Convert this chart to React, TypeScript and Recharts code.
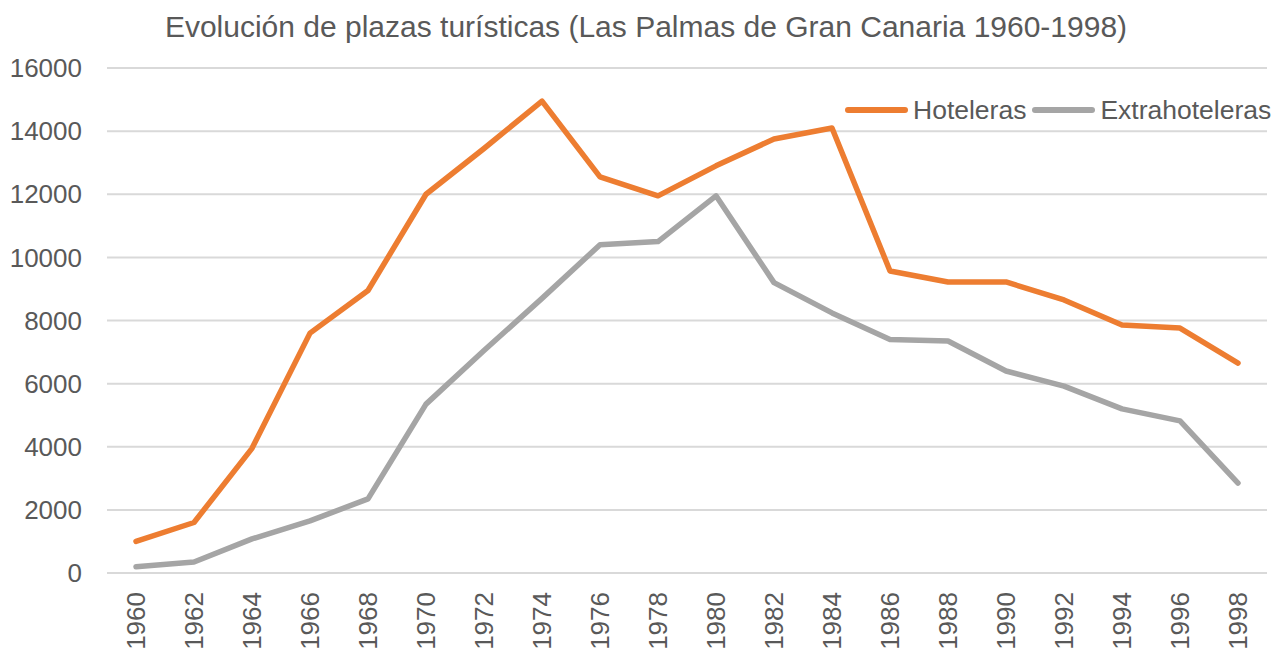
import { LineChart, Line, XAxis, YAxis, CartesianGrid } from "recharts";

const years = [
  "1960", "1962", "1964", "1966", "1968", "1970", "1972", "1974", "1976", "1978",
  "1980", "1982", "1984", "1986", "1988", "1990", "1992", "1994", "1996", "1998",
];
const hoteleras = [
  1000, 1600, 3950, 7600, 8950, 12000, 13450, 14950, 12550, 11950,
  12900, 13750, 14100, 9570, 9220, 9220, 8650, 7860, 7760, 6650,
];
const extrahoteleras = [
  200, 350, 1080, 1650, 2350, 5350, 7050, 8700, 10400, 10500,
  11950, 9200, 8240, 7400, 7350, 6400, 5920, 5200, 4820, 2850,
];
const yTicks = [0, 2000, 4000, 6000, 8000, 10000, 12000, 14000, 16000];

const title = "Evolución de plazas turísticas (Las Palmas de Gran Canaria 1960-1998)";
const FONT = "'Liberation Sans', Arial, sans-serif";
const TEXT = "#595959";
const ORANGE = "#ED7D31";
const GREY = "#A5A5A5";

const data = years.map((year, i) => ({
  year,
  Hoteleras: hoteleras[i],
  Extrahoteleras: extrahoteleras[i],
}));

const series = [
  { name: "Hoteleras", color: ORANGE },
  { name: "Extrahoteleras", color: GREY },
];

// rotated year labels, reading bottom-to-top
const YearTick = ({ x, y, payload }: any) => (
  <g transform={`translate(${x},${y})`}>
    <text
      transform="rotate(-90)"
      x={-19}
      dy="0.36em"
      textAnchor="end"
      fill={TEXT}
      fontSize={26}
      fontFamily={FONT}
    >
      {payload.value}
    </text>
  </g>
);

export default function App() {
  return (
    <div style={{ position: "absolute", left: 0, top: 0, width: 1280, height: 648, background: "#fff", overflow: "hidden" }}>
      <div
        style={{
          position: "absolute",
          top: 12,
          left: 0,
          width: 1292,
          textAlign: "center",
          fontFamily: FONT,
          fontSize: 30,
          lineHeight: "30px",
          color: TEXT,
        }}
      >
        {title}
      </div>
      <LineChart width={1280} height={648} data={data} margin={{ top: 68, right: 13, left: 0, bottom: 0 }}>
        <CartesianGrid vertical={false} stroke="#D9D9D9" strokeWidth={2} />
        <XAxis
          dataKey="year"
          interval={0}
          height={75}
          padding={{ left: 29, right: 29 }}
          axisLine={false}
          tickLine={false}
          tickSize={0}
          tickMargin={0}
          tick={<YearTick />}
        />
        <YAxis
          width={107}
          domain={[0, 16000]}
          ticks={yTicks}
          axisLine={false}
          tickLine={false}
          tickSize={0}
          tickMargin={25}
          tick={{ fill: TEXT, fontSize: 26, fontFamily: FONT }}
        />
        {series.map((s) => (
          <Line
            key={s.name}
            type="linear"
            dataKey={s.name}
            stroke={s.color}
            strokeWidth={5.5}
            strokeLinejoin="round"
            strokeLinecap="round"
            dot={false}
            isAnimationActive={false}
          />
        ))}
      </LineChart>
      <div
        style={{
          position: "absolute",
          left: 845,
          top: 94,
          display: "flex",
          alignItems: "center",
          fontFamily: FONT,
          fontSize: 26.5,
          lineHeight: "32px",
          color: TEXT,
          whiteSpace: "nowrap",
        }}
      >
        {series.map((s) => (
          <div key={s.name} style={{ display: "flex", alignItems: "center", marginRight: 6 }}>
            <span
              style={{
                display: "inline-block",
                width: 63,
                height: 6,
                borderRadius: 3,
                background: s.color,
                marginRight: 5,
              }}
            />
            <span>{s.name}</span>
          </div>
        ))}
      </div>
    </div>
  );
}
